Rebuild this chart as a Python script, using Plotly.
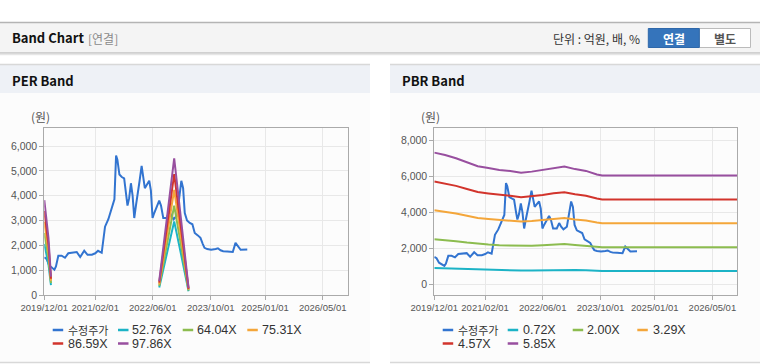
import plotly.graph_objects as go

W, H = 760, 364

# ---------------- data ----------------
price_dates = ["2019-12-01", "2019-12-20", "2020-01-10", "2020-02-07", "2020-02-24", "2020-03-08",
               "2020-03-28", "2020-04-25", "2020-05-23", "2020-06-20", "2020-08-01", "2020-08-30",
               "2020-09-28", "2020-11-01", "2020-11-29", "2021-01-04", "2021-02-02", "2021-02-25",
               "2021-03-28", "2021-04-25", "2021-05-23", "2021-06-15", "2021-07-04", "2021-07-13",
               "2021-07-27", "2021-08-07", "2021-08-24", "2021-09-13", "2021-10-03", "2021-10-20",
               "2021-10-31", "2021-11-14", "2021-11-29", "2021-12-13", "2021-12-27", "2022-01-10",
               "2022-01-24", "2022-02-10", "2022-02-27", "2022-03-10", "2022-03-26", "2022-04-13",
               "2022-05-02", "2022-05-16", "2022-05-30", "2022-06-13", "2022-07-05", "2022-07-25",
               "2022-08-09", "2022-08-28", "2022-09-28", "2022-10-18", "2022-11-04", "2022-11-23",
               "2022-12-22", "2023-01-10", "2023-01-27", "2023-02-11", "2023-02-25", "2023-03-16",
               "2023-04-08", "2023-04-30", "2023-05-20", "2023-06-15", "2023-07-07", "2023-07-27",
               "2023-08-10", "2023-09-02", "2023-10-05", "2023-11-12", "2023-12-01", "2023-12-23",
               "2024-01-14", "2024-02-18", "2024-04-04", "2024-04-27", "2024-05-17", "2024-06-09",
               "2024-08-04"]
price_values = [1520, 1450, 1200, 1100, 1020, 1150,
                1580, 1580, 1500, 1680, 1720, 1730,
                1530, 1780, 1620, 1620, 1680, 1780,
                1700, 2750, 3050, 3400, 3700, 3850,
                5620, 5450, 4850, 4750, 4700, 4000,
                3600, 3900, 4500, 4000, 3100, 3600,
                4000, 4600, 5200, 4900, 4300, 4450,
                4600, 4200, 3100, 3300, 3600, 3800,
                3600, 3100, 3100, 3400, 3200, 3050,
                3200, 4000, 4600, 4300, 3300, 3000,
                2900, 2850, 2500, 2400, 2300, 2050,
                1900, 1850, 1820, 1850, 1880, 1800,
                1760, 1750, 1730, 2100, 1950, 1820,
                1830]

# PER band (gap between the two segments)
per_dates = ["2019-12-01", "2019-12-15", "2020-01-05", "2020-01-26", "2021-06-01",
             "2022-07-25", "2022-09-26", "2022-11-28", "2023-01-28", "2023-03-29"]
per_names = ["52.76X", "64.04X", "75.31X", "86.59X", "97.86X"]
per_52_76 = [2059, 1779, 1240, 399, None, 302, 1633, 2965, 1563, 151]
per_64_04 = [2500, 2160, 1505, 484, None, 366, 1983, 3599, 1898, 183]
per_75_31 = [2940, 2540, 1770, 570, None, 431, 2332, 4233, 2232, 215]
per_86_59 = [3380, 2920, 2035, 655, None, 495, 2681, 4866, 2566, 248]
per_97_86 = [3820, 3300, 2300, 740, None, 560, 3030, 5500, 2900, 280]

# PBR band
pbr_dates = ["2019-12-01", "2020-03-01", "2020-06-01", "2020-09-01", "2020-12-01", "2021-03-01",
             "2021-06-01", "2021-09-01", "2021-12-01", "2022-03-01", "2022-06-01", "2022-09-01",
             "2022-12-01", "2023-03-01", "2023-06-01", "2023-09-01", "2023-10-15", "2026-11-27"]
pbr_names = ["0.72X", "2.00X", "3.29X", "4.57X", "5.85X"]
pbr_0_72 = [900, 884, 862, 834, 807, 795, 782, 774, 763, 770, 782, 798, 805, 788, 775, 751, 743, 743]
pbr_2_00 = [2501, 2455, 2393, 2318, 2243, 2209, 2171, 2150, 2120, 2140, 2171, 2215, 2236, 2188, 2154, 2085, 2065, 2065]
pbr_3_29 = [4114, 4038, 3937, 3813, 3689, 3633, 3571, 3537, 3487, 3521, 3571, 3644, 3678, 3599, 3543, 3431, 3397, 3397]
pbr_4_57 = [5714, 5609, 5468, 5297, 5125, 5047, 4961, 4914, 4843, 4890, 4961, 5062, 5109, 5000, 4922, 4765, 4718, 4718]
pbr_5_85 = [7315, 7180, 7000, 6780, 6560, 6460, 6350, 6290, 6200, 6260, 6350, 6480, 6540, 6400, 6300, 6100, 6040, 6040]

x_tick_vals = ["2019-12-01", "2021-02-01", "2022-06-01", "2023-10-01", "2025-01-01", "2026-05-01"]
x_tick_text = ["2019/12/01", "2021/02/01", "2022/06/01", "2023/10/01", "2025/01/01", "2026/05/01"]
price_name = "수정주가"

# ---------------- styles ----------------
PRICE_C = "#3274d0"
BAND_C = ["#1cb3c6", "#8cbc4f", "#f4a63a", "#d2342c", "#984f9f"]
FONT = "Liberation Sans, Arial, sans-serif"
KFONT = "Noto Sans CJK KR, Noto Sans, sans-serif"


def px(x):
    return x / W


def py(y):
    return 1 - y / H


fig = go.Figure()

fig.add_trace(go.Scatter(x=price_dates, y=price_values, mode="lines", name=price_name,
                         line=dict(color=PRICE_C, width=2), xaxis="x", yaxis="y"))
for name, vals, c in zip(per_names, [per_52_76, per_64_04, per_75_31, per_86_59, per_97_86], BAND_C):
    fig.add_trace(go.Scatter(x=per_dates, y=vals, mode="lines", name=name, connectgaps=False,
                             line=dict(color=c, width=2), xaxis="x", yaxis="y"))

fig.add_trace(go.Scatter(x=price_dates, y=price_values, mode="lines", name=price_name,
                         line=dict(color=PRICE_C, width=2), xaxis="x2", yaxis="y2"))
for name, vals, c in zip(pbr_names, [pbr_0_72, pbr_2_00, pbr_3_29, pbr_4_57, pbr_5_85], BAND_C):
    fig.add_trace(go.Scatter(x=pbr_dates, y=vals, mode="lines", name=name,
                             line=dict(color=c, width=2), xaxis="x2", yaxis="y2"))

x_range = ["2019-12-01", "2026-11-27"]
ax_common = dict(showline=True, linecolor="#aaaaaa", linewidth=1, mirror=True,
                 gridcolor="#e8e8e8", gridwidth=1, zeroline=False, automargin=False,
                 ticks="outside", ticklen=4, tickcolor="#aaaaaa",
                 tickfont=dict(family=FONT, size=10.5, color="#555555"))

xaxis_common = dict(ax_common, type="date", range=x_range, tickmode="array", tickangle=0,
                    tickvals=x_tick_vals, ticktext=x_tick_text,
                    tickfont=dict(family=FONT, size=9.5, color="#555555"))

yd = [py(295), py(128.3)]
fig.update_layout(
    width=W, height=H, autosize=False,
    margin=dict(l=0, r=0, t=0, b=0),
    paper_bgcolor="white", plot_bgcolor="rgba(0,0,0,0)",
    showlegend=False,
    xaxis=dict(xaxis_common, domain=[px(44.3), px(347.7)], anchor="y"),
    yaxis=dict(ax_common, domain=yd, anchor="x", range=[0, 6713],
               tickvals=[0, 1000, 2000, 3000, 4000, 5000, 6000], tickformat=","),
    xaxis2=dict(xaxis_common, domain=[px(434.3), px(737.3)], anchor="y2"),
    yaxis2=dict(ax_common, domain=yd, anchor="x2", range=[-594, 8667],
                tickvals=[0, 2000, 4000, 6000, 8000], tickformat=","),
)

shapes = []
ann = []


def rect(x0, y0, x1, y1, fill, line=None, lw=0):
    shapes.append(dict(type="rect", xref="paper", yref="paper", layer="below",
                       x0=px(x0), x1=px(x1), y0=py(y1), y1=py(y0),
                       fillcolor=fill, line=dict(color=line or fill, width=lw)))


def hline(x0, x1, y, color, w=1):
    shapes.append(dict(type="line", xref="paper", yref="paper", layer="below",
                       x0=px(x0), x1=px(x1), y0=py(y), y1=py(y), line=dict(color=color, width=w)))


def text(x, y, s, size=12, color="#333", bold=False, xanchor="left", font=KFONT):
    if bold:
        s = "<b>" + s + "</b>"
    ann.append(dict(xref="paper", yref="paper", x=px(x), y=py(y), text=s, showarrow=False,
                    xanchor=xanchor, yanchor="middle",
                    font=dict(family=font, size=size, color=color)))


# top header bar
rect(0, 22.5, 760, 53, "#f4f4f4")
hline(0, 760, 22.5, "#b4b4b4", 1.5)
hline(0, 760, 53, "#c4c4c4", 1.5)
hline(0, 760, 54.5, "#e6e6e6", 1.5)
text(10, 38, "Band Chart", 13, "#111111", True)
text(86, 38.5, "[연결]", 12, "#8a8a8a")
text(642, 38.5, "단위 : 억원, 배, %", 12, "#333333", xanchor="right")
rect(699.3, 28.5, 750.5, 47.5, "#ffffff", "#bbbbbb", 1)
rect(648.3, 28.5, 699.3, 47.5, "#3574bb", "#2f68aa", 1)
text(673.8, 38.5, "연결", 12, "#ffffff", True, xanchor="center")
text(725, 38.5, "별도", 12, "#555555", True, xanchor="center")

# panels
for x0, x1, title in [(0, 370, "PER Band"), (390, 760, "PBR Band")]:
    rect(x0, 64.5, x1, 362, "#fcfcfc")
    rect(x0, 64.5, x1, 93, "#eef1f6")
    hline(x0, x1, 64.5, "#d8d8d8", 1.5)
    hline(x0, x1, 362.5, "#d8d8d8", 1.5)
    text(x0 + 10, 80, title, 13, "#111111", True)

text(40, 117, "(원)", 12, "#555555", xanchor="center")
text(430, 117, "(원)", 12, "#555555", xanchor="center")

# custom legends
all_colors = [PRICE_C] + BAND_C


def legend(items, positions):
    for (label, color), (lx, ly, tx) in zip(items, positions):
        shapes.append(dict(type="line", xref="paper", yref="paper",
                           x0=px(lx), x1=px(lx + 10.5), y0=py(ly), y1=py(ly),
                           line=dict(color=color, width=2.5)))
        if label == price_name:
            text(tx, ly, label, 11, "#333333", font=KFONT)
        else:
            text(tx, ly, label, 12.5, "#333333", font=FONT)


per_items = list(zip([price_name] + per_names, all_colors))
pbr_items = list(zip([price_name] + pbr_names, all_colors))
legend(per_items, [(52.7, 330, 65.5), (118, 330, 130), (182.7, 330, 195), (247.3, 330, 260),
                   (52.7, 343.5, 65.5), (118, 343.5, 130)])
legend(pbr_items, [(442.7, 330, 456), (507.7, 330, 521), (572.7, 330, 585), (637.3, 330, 650.7),
                   (442.7, 343.5, 456), (507.7, 343.5, 521)])

fig.update_layout(shapes=shapes, annotations=ann)
fig.write_html("out.html", config={"displayModeBar": False},
               post_script="document.body.style.margin='0';")
